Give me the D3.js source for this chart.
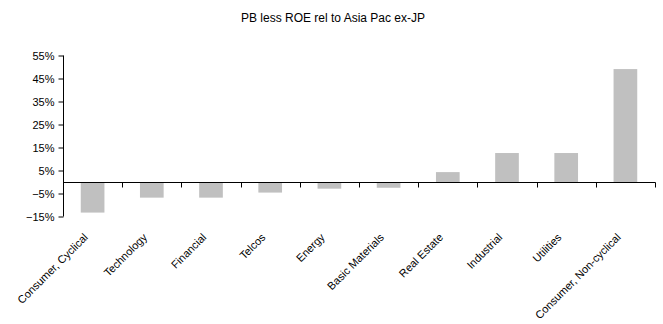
<!DOCTYPE html>
<html>
<head>
<meta charset="utf-8">
<script src="https://cdn.jsdelivr.net/npm/d3@7"></script>
<style>
  body { margin: 0; background: #fff; }
  svg { display: block; font-family: "Liberation Sans", Arial, sans-serif; }
</style>
</head>
<body>
<svg id="chart" width="663" height="324"></svg>
<script>
const categories = [
  'Consumer, Cyclical', 'Technology', 'Financial', 'Telcos', 'Energy',
  'Basic Materials', 'Real Estate', 'Industrial', 'Utilities', 'Consumer, Non-cyclical',
];
const values = [-0.133, -0.068, -0.068, -0.046, -0.029, -0.025, 0.043, 0.126, 0.126, 0.491];
const yTicks = [0.55, 0.45, 0.35, 0.25, 0.15, 0.05, -0.05, -0.15];
const title = 'PB less ROE rel to Asia Pac ex-JP';

const svg = d3.select('#chart');
const left = 63;
const right = 655;

const x = d3.scaleBand()
  .domain(categories)
  .range([left, right])
  .paddingInner(0.6)
  .paddingOuter(0.3);
const xEdge = d3.scaleLinear().domain([0, categories.length]).range([left, right]);

// 10% = 23px, 0 at y=182
const y = d3.scaleLinear()
  .domain([-0.15, 0.55])
  .range([216.5, 55.5]);

svg.append('text')
  .attr('x', 333)
  .attr('y', 22)
  .attr('text-anchor', 'middle')
  .attr('font-size', 12)
  .attr('fill', '#000')
  .text(title);

svg.selectAll('rect.bar')
  .data(values)
  .enter().append('rect')
  .attr('class', 'bar')
  .attr('x', (d, i) => x(categories[i]))
  .attr('width', x.bandwidth())
  .attr('y', d => y(Math.max(0, d)))
  .attr('height', d => Math.abs(y(d) - y(0)))
  .attr('fill', '#c0c0c0');

// y axis
const gy = svg.append('g').attr('transform', `translate(${left + 0.5},0)`);
gy.call(d3.axisLeft(y)
  .tickValues(yTicks)
  .tickSize(5)
  .tickPadding(4)
  .tickFormat(d3.format('.0%')));
gy.select('.domain').attr('d', `M0,${y(0.55)}V${y(-0.15)}`).attr('stroke', '#000');
gy.selectAll('.tick text').attr('font-size', 11).attr('font-family', '"Liberation Sans", Arial, sans-serif').attr('fill', '#000');

// x axis at zero
const gx = svg.append('g').attr('transform', `translate(0,${Math.round(y(0)) + 0.5})`);
gx.append('line')
  .attr('x1', left).attr('x2', right + 0.5)
  .attr('stroke', '#000');
gx.selectAll('line.tick')
  .data(d3.range(1, categories.length + 1))
  .enter().append('line')
  .attr('class', 'tick')
  .attr('x1', d => Math.round(xEdge(d)) + 0.5)
  .attr('x2', d => Math.round(xEdge(d)) + 0.5)
  .attr('y1', 0).attr('y2', 5)
  .attr('stroke', '#000');

// category labels sit below the plot area
svg.append('g')
  .selectAll('text')
  .data(categories)
  .enter().append('text')
  .attr('text-anchor', 'end')
  .attr('font-size', 11)
  .attr('fill', '#000')
  .attr('transform', d => `translate(${x(d) + x.bandwidth() / 2 - 4},238) rotate(-45)`)
  .text(d => d);
</script>
</body>
</html>
